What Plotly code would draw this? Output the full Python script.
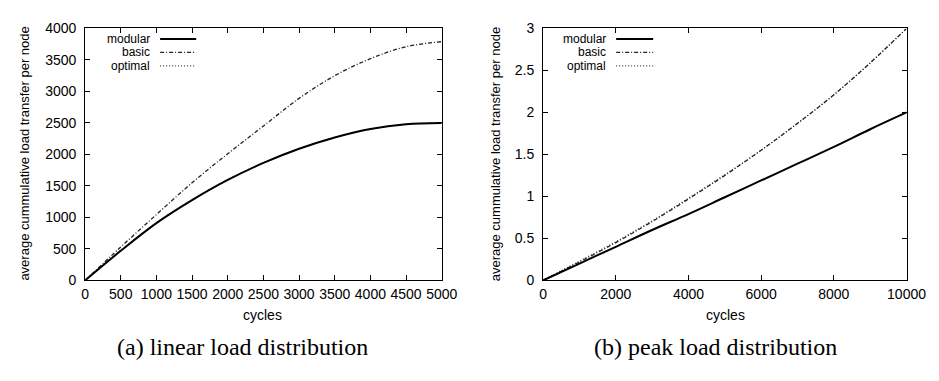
import plotly.graph_objects as go

W, H = 939, 381

# ---- data ----
cycles_a = [0, 500, 1000, 1500, 2000, 2500, 3000, 3500, 4000, 4500, 5000]
modular_a = [0, 470, 910, 1275, 1595, 1865, 2090, 2270, 2405, 2480, 2500]
basic_a = [0, 530, 1045, 1550, 2010, 2450, 2890, 3250, 3520, 3710, 3790]
optimal_a = [0, 475, 915, 1280, 1600, 1870, 2095, 2270, 2400, 2480, 2500]

cycles_b = [0, 1000, 2000, 3000, 4000, 5000, 6000, 7000, 8000, 9000, 10000]
modular_b = [0, 0.2, 0.4, 0.6, 0.79, 0.99, 1.19, 1.39, 1.59, 1.8, 2.0]
basic_b = [0, 0.22, 0.45, 0.70, 0.97, 1.25, 1.55, 1.87, 2.21, 2.59, 3.0]
optimal_b = [0, 0.23, 0.46, 0.71, 0.98, 1.26, 1.55, 1.87, 2.21, 2.59, 3.0]

series_names = ["modular", "basic", "optimal"]
y_title = "average cummulative load transfer per node"
x_title = "cycles"
captions = ["(a) linear load distribution", "(b) peak load distribution"]

FONT = "Liberation Sans"
SERIF = "Liberation Serif"
styles = {
    "modular": dict(color="black", width=2, dash="solid"),
    "basic": dict(color="#222222", width=1.3, dash="4px,2px,1px,2px"),
    "optimal": dict(color="#444444", width=1.2, dash="1px,2px"),
}

def px(x):
    return x / W

def py(y):
    return 1 - y / H

fig = go.Figure()

for xs, ys_list, xa, ya in [
    (cycles_a, [modular_a, basic_a, optimal_a], "x", "y"),
    (cycles_b, [modular_b, basic_b, optimal_b], "x2", "y2"),
]:
    for name, ys in reversed(list(zip(series_names, ys_list))):
        fig.add_trace(go.Scatter(
            x=xs, y=ys, mode="lines", name=name, line=styles[name],
            line_shape="spline", xaxis=xa, yaxis=ya, showlegend=False,
        ))

ydom = [py(276), py(13)]
axis_common = dict(
    showline=True, linecolor="black", linewidth=1, mirror="ticks",
    ticks="inside", ticklen=5, tickcolor="black", showgrid=False,
    zeroline=False, tickfont=dict(family=FONT, size=14, color="black"),
)
fig.update_layout(
    width=W, height=H, margin=dict(l=0, r=0, t=0, b=0),
    paper_bgcolor="white", plot_bgcolor="white",
    font=dict(family=FONT, size=13, color="black"),
    xaxis=dict(domain=[px(75), px(441)], range=[0, 5000], dtick=500, tick0=0,
               tickformat="d", anchor="y", ticklabelstandoff=1, **axis_common),
    yaxis=dict(domain=ydom, range=[0, 4000], dtick=500, tick0=0, anchor="x",
               tickformat="d", ticklabelstandoff=5, **axis_common),
    xaxis2=dict(domain=[px(545), px(918)], range=[0, 10000], dtick=2000, tick0=0,
                tickformat="d", anchor="y2", ticklabelstandoff=1, **axis_common),
    yaxis2=dict(domain=ydom, range=[0, 3], dtick=0.5, tick0=0, anchor="x2",
                ticklabelstandoff=5, **axis_common),
    showlegend=False,
)

ann = []
shapes = []
for cx, ycx in [(257, 13), (732, 497)]:
    ann.append(dict(x=px(cx), y=py(312), xref="paper", yref="paper", text=x_title,
                    showarrow=False, font=dict(family=FONT, size=14, color="black"),
                    xanchor="center", yanchor="middle"))
    ann.append(dict(x=px(ycx), y=py(144), xref="paper", yref="paper", text=y_title,
                    textangle=-90, showarrow=False,
                    font=dict(family=FONT, size=13, color="black"),
                    xanchor="center", yanchor="middle"))
for cx, cap in zip([237, 722], captions):
    ann.append(dict(x=px(cx), y=py(346), xref="paper", yref="paper", text=cap,
                    showarrow=False,
                    font=dict(family=SERIF, size=24, color="black"),
                    xanchor="center", yanchor="middle"))
for tx, sx0, sx1 in [(143, 152, 189), (611, 620, 658)]:
    for name, ry in zip(series_names, [24, 38, 52]):
        ann.append(dict(x=px(tx), y=py(ry), xref="paper", yref="paper", text=name,
                        showarrow=False, font=dict(family=FONT, size=12, color="black"),
                        xanchor="right", yanchor="middle", borderpad=0))
        st = styles[name]
        shapes.append(dict(type="line", xref="paper", yref="paper",
                           x0=px(sx0), x1=px(sx1), y0=py(ry), y1=py(ry),
                           line=dict(color=st["color"], width=st["width"], dash=st["dash"])))

fig.update_layout(annotations=ann, shapes=shapes)
fig.write_html("out.html")
